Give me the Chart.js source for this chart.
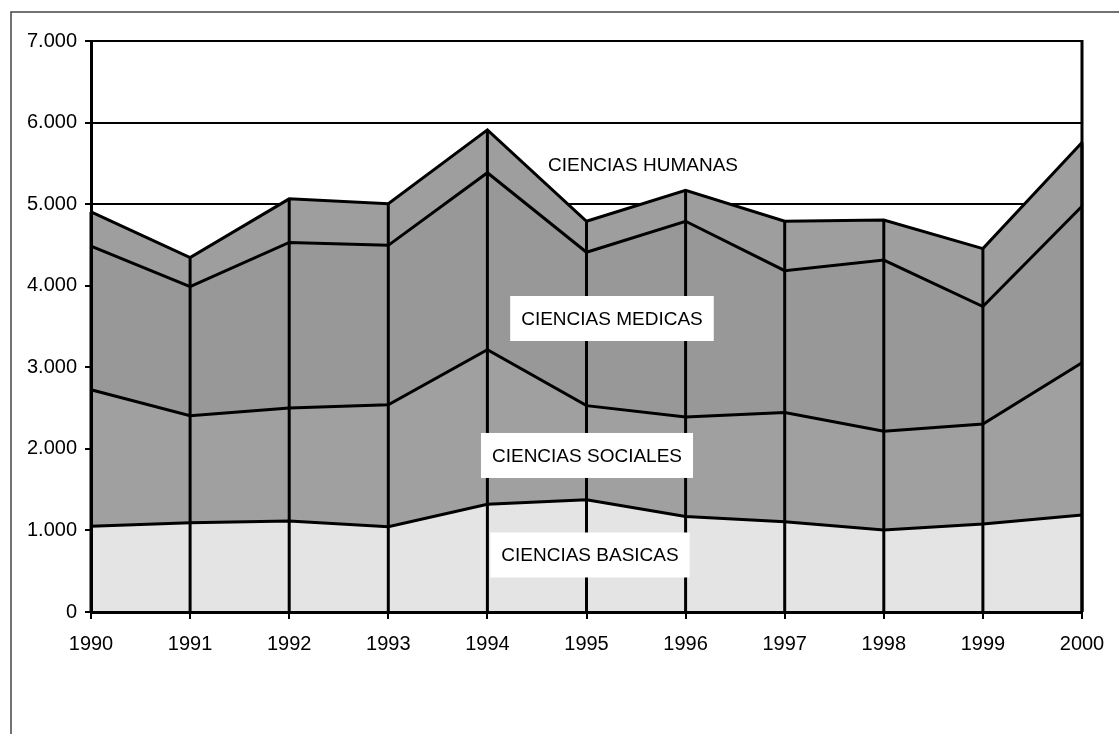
<!DOCTYPE html>
<html>
<head>
<meta charset="utf-8">
<script src="https://cdn.jsdelivr.net/npm/chart.js@4/dist/chart.umd.min.js"></script>
<style>
  html, body { margin: 0; padding: 0; background: #fff; }
  #wrap { width: 1119px; height: 734px; position: relative; }
</style>
</head>
<body>
<div id="wrap"><canvas id="c" width="1119" height="734"></canvas></div>
<script>
// ---- data ----
const years = ['1990','1991','1992','1993','1994','1995','1996','1997','1998','1999','2000'];
const basicas  = [1050, 1095, 1115, 1045, 1320, 1375, 1170, 1105, 1005, 1080, 1190];
const sociales = [1675, 1310, 1385, 1495, 1895, 1155, 1220, 1340, 1210, 1225, 1865];
const medicas  = [1760, 1585, 2030, 1955, 2170, 1880, 2400, 1740, 2100, 1440, 1920];
const humanas  = [420, 355, 535, 510, 525, 380, 380, 605, 490, 710, 780];
const yTicks = [0, 1000, 2000, 3000, 4000, 5000, 6000, 7000];
const seriesNames = ['CIENCIAS BASICAS', 'CIENCIAS SOCIALES', 'CIENCIAS MEDICAS', 'CIENCIAS HUMANAS'];

// ---- in-chart labels (positions in data units, styles separate) ----
const annotations = [
  { text: seriesNames[3], x: 5.57,  y: 5480, boxed: false },
  { text: seriesNames[2], x: 5.257, y: 3598, boxed: true },
  { text: seriesNames[1], x: 5.005, y: 1919, boxed: true },
  { text: seriesNames[0], x: 5.035, y: 699,  boxed: true }
];

const FONT = '"Liberation Sans", Arial, Helvetica, sans-serif';

const decor = {
  id: 'decor',
  afterDatasetsDraw(chart) {
    const ctx = chart.ctx;
    const area = chart.chartArea;
    const yS = chart.scales.y;
    const top = chart.getDatasetMeta(3).data;
    ctx.save();
    ctx.strokeStyle = '#000';
    ctx.lineWidth = 3;
    ctx.lineCap = 'butt';
    top.forEach(p => {
      ctx.beginPath();
      ctx.moveTo(p.x, p.y);
      ctx.lineTo(p.x, yS.getPixelForValue(0));
      ctx.stroke();
    });
    ctx.beginPath();
    ctx.moveTo(area.right, area.top - 1);
    ctx.lineTo(area.right, area.bottom);
    ctx.stroke();
    ctx.restore();
  },
  afterDraw(chart) {
    const ctx = chart.ctx;
    const xS = chart.scales.x, yS = chart.scales.y;
    ctx.save();
    ctx.font = '19px ' + FONT;
    ctx.textAlign = 'center';
    ctx.textBaseline = 'middle';
    annotations.forEach(a => {
      const px = xS.getPixelForValue(a.x);
      const py = yS.getPixelForValue(a.y);
      const w = ctx.measureText(a.text).width;
      if (a.boxed) {
        ctx.fillStyle = '#fff';
        ctx.fillRect(px - w / 2 - 11, py - 22.5, w + 22, 45);
      }
      ctx.fillStyle = '#000';
      ctx.fillText(a.text, px, py + 1);
    });
    ctx.strokeStyle = '#444';
    ctx.lineWidth = 1.5;
    ctx.beginPath();
    ctx.moveTo(11, 734);
    ctx.lineTo(11, 12);
    ctx.lineTo(1119, 12);
    ctx.stroke();
    ctx.restore();
  }
};

const mk = (label, data, color, fill) => ({
  label, data,
  backgroundColor: color,
  borderColor: '#000',
  borderWidth: 3,
  pointRadius: 0,
  tension: 0,
  fill
});

new Chart(document.getElementById('c'), {
  type: 'line',
  data: {
    labels: years,
    datasets: [
      mk(seriesNames[0], basicas,  '#e4e4e4', 'origin'),
      mk(seriesNames[1], sociales, '#a0a0a0', '-1'),
      mk(seriesNames[2], medicas,  '#989898', '-1'),
      mk(seriesNames[3], humanas,  '#9e9e9e', '-1')
    ]
  },
  options: {
    responsive: false,
    animation: false,
    layout: { padding: { left: 0, top: 41, right: 37, bottom: 0 } },
    plugins: { legend: { display: false }, tooltip: { enabled: false } },
    scales: {
      x: {
        offset: false,
        grid: { drawOnChartArea: false, drawTicks: true, tickLength: 7, color: '#000', lineWidth: 2 },
        border: { display: true, color: '#000', width: 3, z: 1 },
        ticks: { color: '#000', font: { family: FONT, size: 20 }, padding: 13, maxRotation: 0, autoSkip: false },
        afterFit(s) { s.height = 122; }
      },
      y: {
        stacked: true,
        min: 0, max: 7000,
        afterBuildTicks(s) { s.ticks = yTicks.map(v => ({ value: v })); },
        grid: { color: '#000', lineWidth: 2, drawTicks: true, tickLength: 6 },
        border: { display: true, color: '#000', width: 3, z: 1 },
        ticks: {
          color: '#000', font: { family: FONT, size: 20 }, padding: 8,
          callback: v => v.toString().replace(/\B(?=(\d{3})+(?!\d))/g, '.')
        },
        afterFit(s) { s.width = 91; }
      }
    }
  },
  plugins: [decor]
});
</script>
</body>
</html>
